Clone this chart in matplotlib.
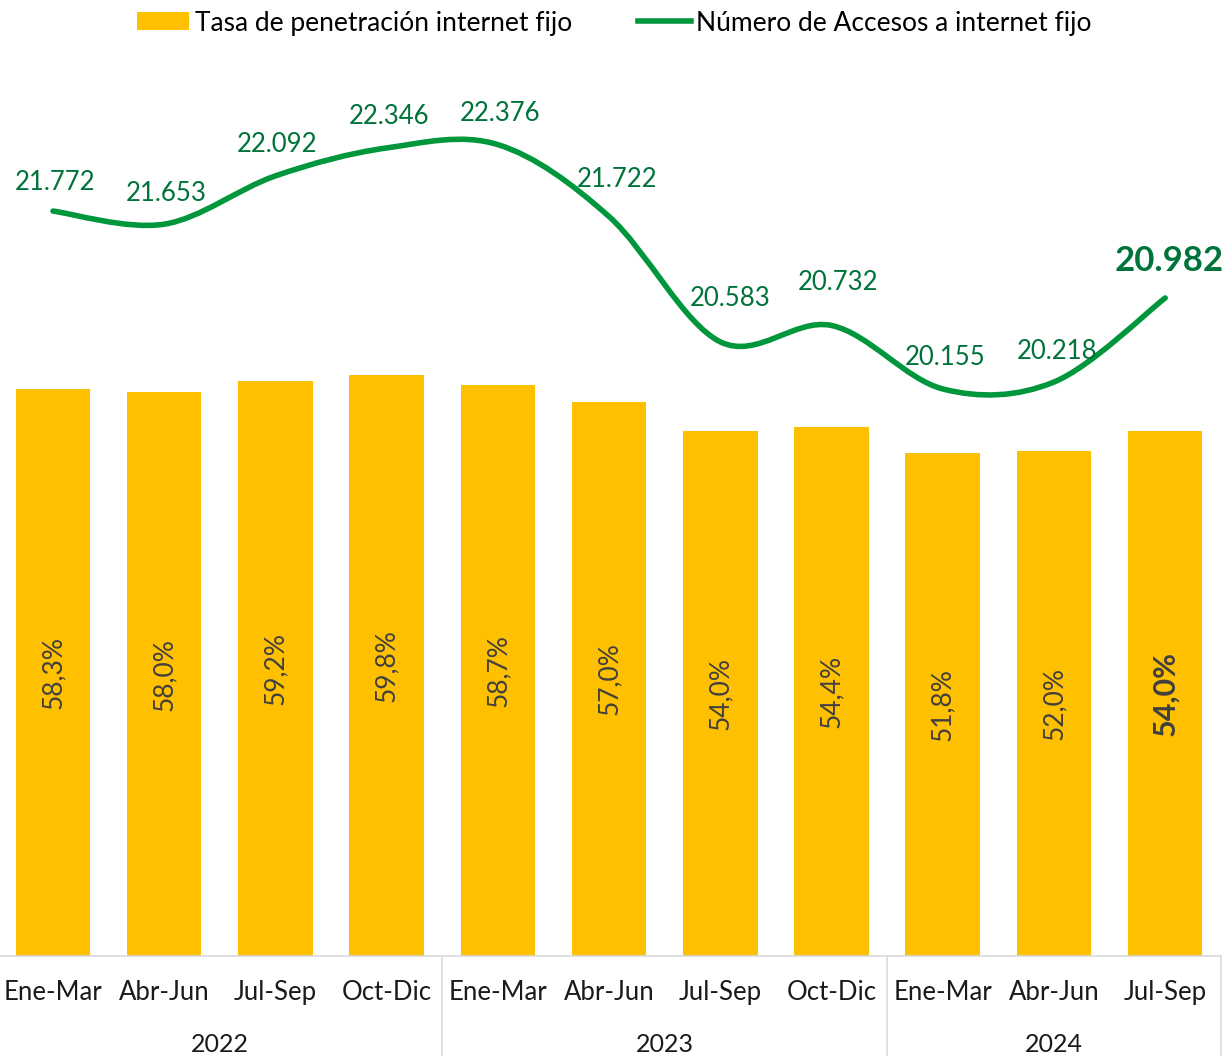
import numpy as np
import matplotlib
matplotlib.use("Agg")
import matplotlib.pyplot as plt
from matplotlib.path import Path
from matplotlib.patches import PathPatch, Patch
from matplotlib.lines import Line2D
import matplotlib.transforms as mtransforms

plt.rcParams['font.family'] = ['Lato', 'DejaVu Sans']

periods = ['Ene-Mar', 'Abr-Jun', 'Jul-Sep', 'Oct-Dic',
           'Ene-Mar', 'Abr-Jun', 'Jul-Sep', 'Oct-Dic',
           'Ene-Mar', 'Abr-Jun', 'Jul-Sep']
years = ['2022', '2023', '2024']
year_sizes = [4, 4, 3]
penetracion = [58.3, 58.0, 59.2, 59.8, 58.7, 57.0, 54.0, 54.4, 51.8, 52.0, 54.0]
accesos = [21.772, 21.653, 22.092, 22.346, 22.376, 21.722,
           20.583, 20.732, 20.155, 20.218, 20.982]

YELLOW = '#FFC000'
GREEN = '#00963C'
DGREEN = '#00733A'
GRAY = '#404040'

W, H = 1227, 1056
fig = plt.figure(figsize=(W / 100, H / 100), dpi=100)
ax_bottom_px = 956
ax_top_px = 55
ax_left_px = -2.6
ax_right_px = 1220.8
ax = fig.add_axes([ax_left_px / W, (H - ax_bottom_px) / H,
                   (ax_right_px - ax_left_px) / W, (ax_bottom_px - ax_top_px) / H])
ax_h = ax_bottom_px - ax_top_px

x = np.arange(len(periods))
ax.bar(x, penetracion, width=0.67, color=YELLOW, zorder=2)
ax.set_xlim(-0.5, len(periods) - 0.5)
ax.set_ylim(0, ax_h / 9.72)

for i, v in enumerate(penetracion):
    last = i == len(penetracion) - 1
    ax.text(i, v / 2, f'{v:.1f}%'.replace('.', ','), rotation=90,
            ha='center', va='center', color=GRAY,
            fontsize=22 if last else 19, fontweight='bold' if last else 'normal')

for s in ['top', 'left', 'right']:
    ax.spines[s].set_visible(False)
ax.spines['bottom'].set_color('#D9D9D9')
ax.spines['bottom'].set_linewidth(1.2)
ax.set_yticks([])
ax.set_xticks(x)
ax.set_xticklabels(periods, fontsize=18.5, color='#1a1a1a')
ax.tick_params(axis='x', length=0, pad=17)

# year groups and separators
below = -(H - ax_bottom_px) / ax_h
trans = mtransforms.blended_transform_factory(ax.transData, ax.transAxes)
start = 0
bounds = [-0.5]
for yr, n in zip(years, year_sizes):
    ax.text(start + (n - 1) / 2, -89 / ax_h, yr, transform=trans,
            ha='center', va='center', fontsize=18, color='#1a1a1a')
    start += n
    bounds.append(start - 0.5)
for b in bounds:
    ax.plot([b, b], [0, below], transform=trans, color='#D9D9D9',
            lw=1.2, clip_on=False)

# secondary axis with smoothed line
ax2 = ax.twinx()
ax2.set_ylim(15.0, 15.0 + ax_h / 110)
ax2.axis('off')

pts = np.column_stack([x, accesos]).astype(float)
verts = [pts[0]]
codes = [Path.MOVETO]
n = len(pts)
for i in range(n - 1):
    p0 = pts[i - 1] if i > 0 else pts[i]
    p1 = pts[i]
    p2 = pts[i + 1]
    p3 = pts[i + 2] if i + 2 < n else pts[i + 1]
    c1 = p1 + (p2 - p0) / 6
    c2 = p2 - (p3 - p1) / 6
    verts += [c1, c2, p2]
    codes += [Path.CURVE4] * 3
ax2.add_patch(PathPatch(Path(verts, codes), fill=False, edgecolor=GREEN,
                        lw=4, capstyle='round', joinstyle='round', zorder=3))

# label offsets in pixels (Excel moved a few of them)
label_dx = [2, 2, 2, 2, 2, 8, 10, 6, 2, 3, 4]
label_dy = [29, 31, 31, 31, 31, 37, 43, 43, 31, 31, 37]
for i, v in enumerate(accesos):
    last = i == n - 1
    ax2.annotate(f'{v:.3f}', (i, v), xytext=(label_dx[i], label_dy[i]),
                 textcoords='offset pixels', ha='center', va='center', color=DGREEN,
                 fontsize=25 if last else 18.5, fontweight='bold' if last else 'normal')

handles = [Patch(facecolor=YELLOW, edgecolor='none'),
           Line2D([], [], color=GREEN, lw=4)]
fig.legend(handles, ['Tasa de penetración internet fijo', 'Número de Accesos a internet fijo'],
           loc='center', bbox_to_anchor=(614 / W, 1 - 23 / H), ncol=2, frameon=False,
           fontsize=19, handlelength=2.0, handletextpad=0.2, columnspacing=2.5,
           handleheight=0.65)

fig.savefig('out.png', dpi=100)
